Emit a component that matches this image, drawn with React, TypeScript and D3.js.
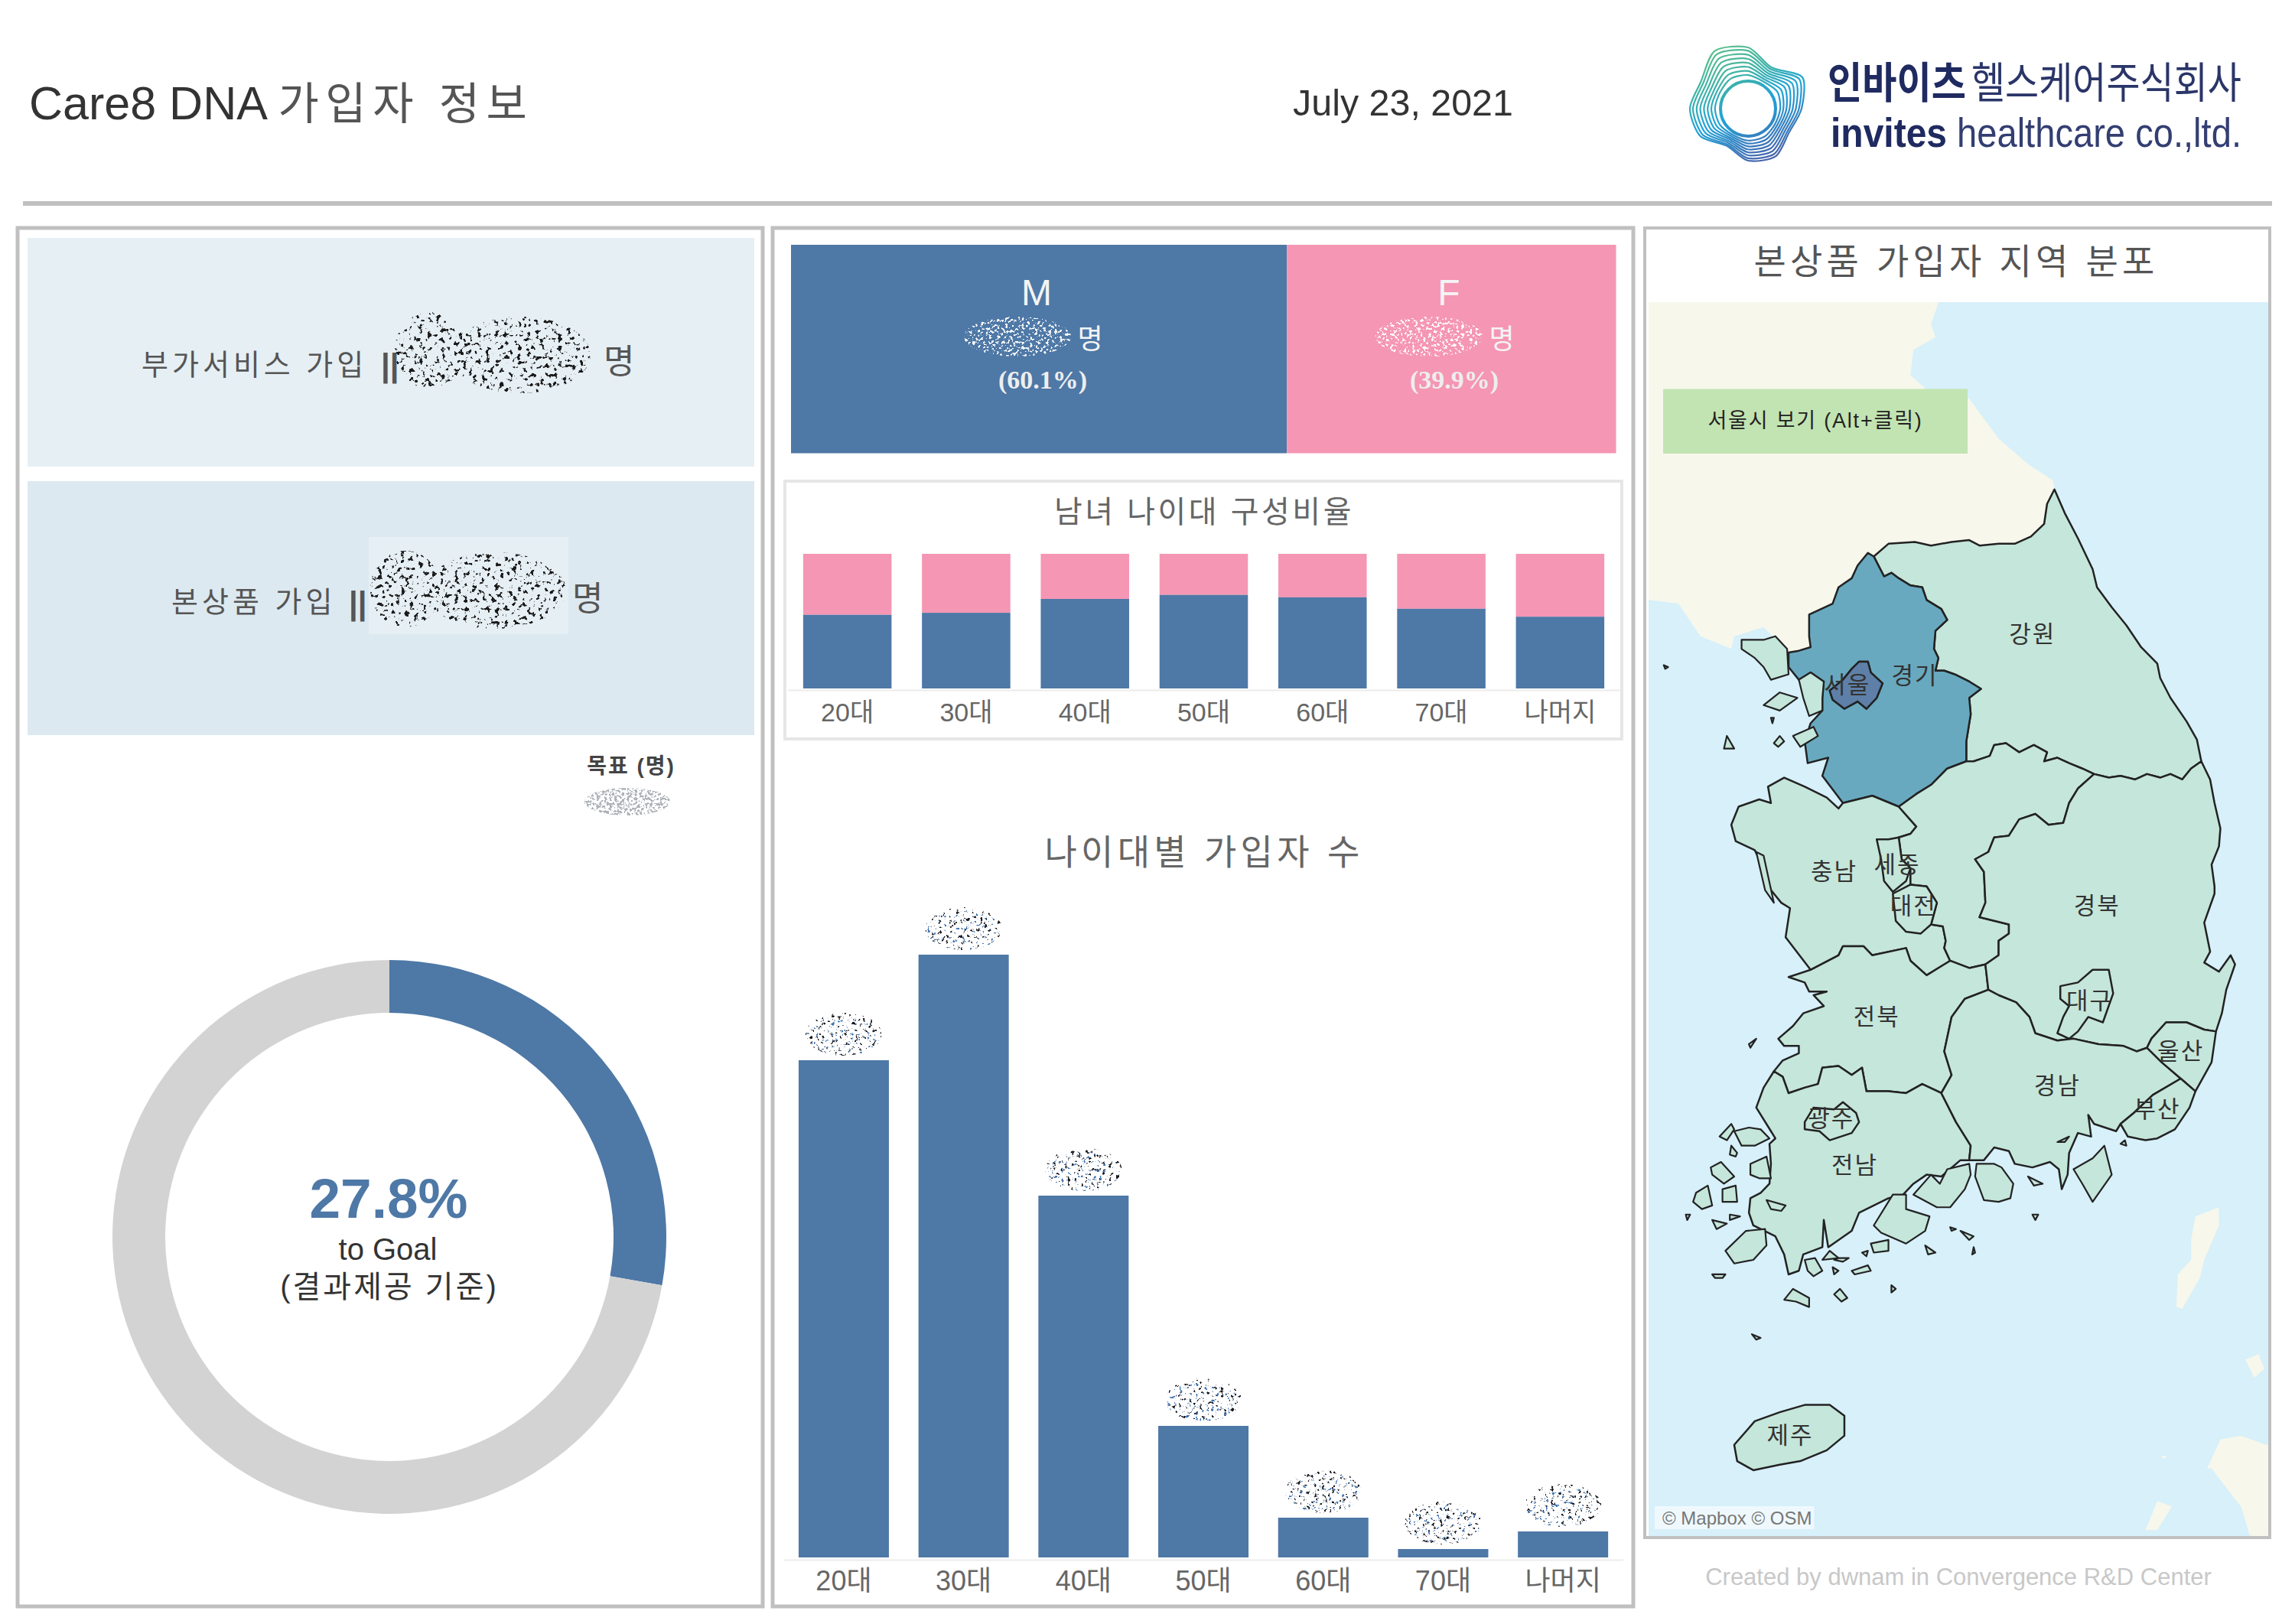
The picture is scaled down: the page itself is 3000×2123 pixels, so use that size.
import React, { useEffect, useRef } from 'react';
import * as d3 from 'd3';

type Pt = [number, number];

const FONT = "'Liberation Sans','Noto Sans CJK KR',sans-serif";
const BLUE = '#4e78a6';
const PINK = '#f596b4';
const TEXT = '#555';

const ageLabels = ['20대', '30대', '40대', '50대', '60대', '70대', '나머지'];
const ageCounts = [650, 788, 473, 172, 52, 11, 34];
const maleShare = [0.547, 0.562, 0.665, 0.695, 0.677, 0.592, 0.533];
const genderLabels = ['M', 'F'];
const genderShare = [60.1, 39.9];
const goalShare = 27.8;

// province borders, lon/lat, shared between rings
const gwEast: Pt[] = [[128.36,38.63],[128.43,38.5],[128.52,38.36],[128.62,38.19],[128.65,38.09],[128.75,37.98],[128.85,37.88],[128.95,37.76],[129.06,37.67],[129.08,37.59],[129.15,37.48],[129.26,37.35],[129.33,37.25],[129.36,37.13]];
const gwSouthE: Pt[] = [[129.36,37.13],[129.29,37.09],[129.23,37.03],[129.15,37.06],[129.08,37.04],[128.99,37.06],[128.91,37.03],[128.81,37.05],[128.73,37.04],[128.63,37.06]];
const gwSouthW: Pt[] = [[128.63,37.06],[128.55,37.09],[128.46,37.12],[128.38,37.15],[128.29,37.13],[128.31,37.18],[128.22,37.22],[128.12,37.18],[128.03,37.23],[127.95,37.22],[127.92,37.16],[127.81,37.13],[127.76,37.13]];
const ggGw: Pt[] = [[127.76,37.13],[127.76,37.24],[127.79,37.39],[127.78,37.48],[127.86,37.53],[127.78,37.57],[127.68,37.61],[127.61,37.63],[127.55,37.63],[127.57,37.7],[127.54,37.75],[127.55,37.85],[127.63,37.91],[127.59,37.97],[127.49,38.02],[127.46,38.09],[127.38,38.1],[127.3,38.14],[127.25,38.17],[127.2,38.15],[127.13,38.26]];
const gwNorth: Pt[] = [[127.13,38.26],[127.23,38.33],[127.41,38.34],[127.52,38.32],[127.66,38.34],[127.78,38.35],[127.85,38.32],[127.98,38.33],[128.09,38.33],[128.2,38.37],[128.29,38.44],[128.31,38.55],[128.36,38.63]];
const ggNW: Pt[] = [[127.13,38.26],[127.09,38.28],[127.02,38.21],[126.98,38.14],[126.89,38.09],[126.85,38],[126.69,37.94],[126.69,37.82],[126.7,37.76],[126.62,37.74],[126.55,37.73],[126.55,37.65],[126.62,37.58],[126.7,37.62],[126.79,37.57],[126.78,37.48],[126.78,37.41],[126.7,37.34],[126.66,37.24],[126.68,37.12],[126.82,37.15],[126.78,37.05],[126.92,36.9]];
const ggS1: Pt[] = [[126.92,36.9],[127.12,36.94],[127.3,36.88]];
const ggS2: Pt[] = [[127.3,36.88],[127.42,36.95],[127.52,37],[127.63,37.09],[127.76,37.13]];
const cnCoast: Pt[] = [[126.92,36.9],[126.89,36.87],[126.81,36.93],[126.66,36.99],[126.52,37.04],[126.41,36.99],[126.43,36.9],[126.35,36.92],[126.21,36.88],[126.16,36.78],[126.19,36.69],[126.32,36.64],[126.38,36.54],[126.43,36.42],[126.5,36.35],[126.56,36.32],[126.53,36.16],[126.7,35.98]];
const cnJb: Pt[] = [[126.7,35.98],[126.89,36.06],[126.92,36.11],[127.06,36.11],[127.12,36.06],[127.35,36.1],[127.38,36.03],[127.49,35.95],[127.65,36.03]];
const chungDiv: Pt[] = [[127.3,36.88],[127.42,36.77],[127.38,36.73],[127.3,36.71],[127.32,36.59],[127.38,36.54],[127.38,36.45],[127.49,36.44],[127.56,36.35],[127.52,36.23],[127.6,36.22],[127.62,36.14],[127.61,36.1],[127.65,36.03]];
const cbGb: Pt[] = [[128.63,37.06],[128.52,36.98],[128.46,36.9],[128.42,36.79],[128.32,36.78],[128.23,36.84],[128.12,36.81],[128.05,36.72],[127.95,36.71],[127.91,36.63],[127.82,36.59],[127.88,36.52],[127.89,36.35],[127.85,36.27],[128.05,36.23],[128.05,36.18],[127.98,36.14],[127.98,36.06],[127.89,36.01]];
const cbJb: Pt[] = [[127.89,36.01],[127.78,35.99],[127.65,36.03]];
const jbCoast: Pt[] = [[126.7,35.98],[126.55,35.94],[126.66,35.91],[126.69,35.86],[126.81,35.86],[126.72,35.84],[126.79,35.78],[126.65,35.74],[126.58,35.67],[126.48,35.6],[126.52,35.56],[126.62,35.56],[126.62,35.52],[126.51,35.48],[126.45,35.42]];
const jbJn: Pt[] = [[126.45,35.42],[126.51,35.39],[126.55,35.3],[126.66,35.33],[126.75,35.35],[126.78,35.44],[126.89,35.45],[126.98,35.4],[127.05,35.44],[127.08,35.31],[127.23,35.31],[127.35,35.3],[127.46,35.35],[127.59,35.3]];
const jbGn: Pt[] = [[127.59,35.3],[127.66,35.4],[127.61,35.53],[127.66,35.72],[127.75,35.82],[127.91,35.87]];
const cbGn: Pt[] = [[127.91,35.87],[127.89,36.01]];
const gbCoast: Pt[] = [[129.36,37.13],[129.42,37.03],[129.45,36.9],[129.49,36.76],[129.48,36.66],[129.43,36.56],[129.45,36.44],[129.45,36.4],[129.38,36.24],[129.42,36.08],[129.38,36.02],[129.48,35.97],[129.56,36.06],[129.59,36.01],[129.53,35.87],[129.5,35.74],[129.46,35.64]];
const gbUs: Pt[] = [[129.46,35.64],[129.38,35.65],[129.26,35.69],[129.12,35.69],[129.02,35.6],[128.99,35.55]];
const gbGn: Pt[] = [[128.99,35.55],[128.92,35.53],[128.83,35.56],[128.66,35.57],[128.49,35.6],[128.38,35.59],[128.23,35.63],[128.19,35.72],[128.1,35.8],[127.98,35.84],[127.91,35.87]];
const usGn: Pt[] = [[128.99,35.55],[129.09,35.47],[129.22,35.38]];
const usBs: Pt[] = [[129.22,35.38],[129.32,35.31]];
const usCoast: Pt[] = [[129.32,35.31],[129.43,35.47],[129.46,35.64]];
const bsCoast: Pt[] = [[129.32,35.31],[129.28,35.22],[129.18,35.1],[129.06,35.05],[128.98,35.04],[128.86,35.06],[128.81,35.13]];
const bsGn: Pt[] = [[128.81,35.13],[128.9,35.19],[129.03,35.29],[129.22,35.38]];
const gnWest: Pt[] = [[127.59,35.3],[127.69,35.14],[127.79,35.01],[127.78,34.93]];
const gnCoast: Pt[] = [[127.78,34.93],[127.88,34.93],[127.95,35],[128.05,34.98],[128.09,34.91],[128.21,34.89],[128.33,34.92],[128.39,34.88],[128.41,34.77],[128.45,34.85],[128.46,34.97],[128.52,35.08],[128.61,35.06],[128.59,35.18],[128.63,35.13],[128.78,35.09],[128.81,35.13]];
const jnCoast: Pt[] = [[126.45,35.42],[126.38,35.33],[126.33,35.22],[126.43,35.09],[126.46,35.05],[126.42,35.02],[126.43,34.91],[126.42,34.8],[126.36,34.75],[126.29,34.72],[126.28,34.64],[126.31,34.57],[126.46,34.51],[126.52,34.41],[126.55,34.3],[126.62,34.32],[126.65,34.41],[126.78,34.45],[126.79,34.6],[126.82,34.45],[126.98,34.54],[127.03,34.64],[127.23,34.72],[127.33,34.74],[127.4,34.8],[127.49,34.85],[127.59,34.84],[127.72,34.93],[127.78,34.93]];

const rev = (a: Pt[]) => [...a].reverse();

const regionNames = ['강원', '경기', '충남', '충북', '전북', '전남', '경북', '경남', '울산', '부산', '세종', '대전', '대구', '광주', '제주', '서울'];
const regionLevels = [0, 1, 0, 0, 0, 0, 0, 0, 0, 0, 0, 0, 0, 0, 0, 2];
const regionRings: Pt[][] = [
  [...gwEast, ...gwSouthE, ...gwSouthW, ...ggGw, ...gwNorth],
  [...ggNW, ...ggS1, ...ggS2, ...ggGw],
  [...cnCoast, ...cnJb, ...rev(chungDiv), ...rev(ggS1)],
  [...ggS2, ...rev(gwSouthW), ...cbGb, ...cbJb, ...rev(chungDiv)],
  [...jbCoast, ...jbJn, ...jbGn, ...cbGn, ...cbJb, ...rev(cnJb)],
  [...jnCoast, ...rev(gnWest), ...rev(jbJn)],
  [...gbCoast, ...gbUs, ...gbGn, ...cbGn, ...rev(cbGb), ...rev(gwSouthE)],
  [...gnWest, ...gnCoast, ...bsGn, ...rev(usGn), ...gbGn, ...rev(jbGn)],
  [...usGn, ...usBs, ...usCoast, ...gbUs],
  [...usBs, ...bsCoast, ...bsGn],
  [[127.15,36.7],[127.23,36.7],[127.3,36.71],[127.32,36.59],[127.38,36.54],[127.35,36.47],[127.26,36.41],[127.2,36.47],[127.18,36.59]],
  [[127.38,36.45],[127.49,36.44],[127.56,36.35],[127.52,36.23],[127.45,36.18],[127.35,36.19],[127.28,36.25],[127.26,36.4]],
  [[128.4,35.89],[128.52,35.91],[128.62,35.98],[128.73,35.98],[128.76,35.85],[128.69,35.69],[128.59,35.72],[128.52,35.64],[128.46,35.6],[128.38,35.63],[128.42,35.72],[128.46,35.78],[128.4,35.82]],
  [[126.66,35.14],[126.72,35.22],[126.86,35.21],[126.92,35.25],[127.01,35.19],[127.03,35.14],[126.98,35.08],[126.83,35.04],[126.76,35.09],[126.66,35.1]],
  [[126.18,33.36],[126.32,33.49],[126.49,33.54],[126.66,33.58],[126.83,33.58],[126.93,33.52],[126.93,33.41],[126.81,33.33],[126.63,33.27],[126.49,33.25],[126.31,33.22],[126.2,33.27]],
  [[127.03,37.68],[127.09,37.68],[127.11,37.62],[127.19,37.56],[127.15,37.48],[127.08,37.42],[127.02,37.46],[126.93,37.42],[126.85,37.47],[126.83,37.52],[126.92,37.58],[126.98,37.64]],
];

// Incheon, the south coast peninsulas and the islands
const islandRings: Pt[][] = [
  [[126.62,37.58],[126.7,37.62],[126.79,37.57],[126.78,37.48],[126.78,37.41],[126.69,37.38],[126.65,37.48]],
  [[126.38,37.8],[126.46,37.82],[126.54,37.75],[126.55,37.61],[126.43,37.58],[126.38,37.65],[126.32,37.7],[126.23,37.75],[126.23,37.8]],
  [[126.38,37.44],[126.49,37.51],[126.61,37.48],[126.49,37.41]],
  [[126.43,37.37],[126.45,37.37],[126.44,37.34]],
  [[126.58,37.27],[126.72,37.32],[126.75,37.27],[126.63,37.21]],
  [[126.13,37.27],[126.11,37.2],[126.18,37.2]],
  [[126.45,37.23],[126.49,37.27],[126.52,37.24],[126.48,37.21]],
  [[125.7,37.66],[125.73,37.65],[125.71,37.64]],
  [[126.33,36.63],[126.38,36.61],[126.45,36.35],[126.39,36.42]],
  [[127.83,34.91],[127.95,34.91],[128,34.89],[128.08,34.8],[128.06,34.72],[127.98,34.7],[127.88,34.71],[127.82,34.84]],
  [[128.49,34.88],[128.62,34.94],[128.7,35.01],[128.75,34.85],[128.62,34.7],[128.55,34.8]],
  [[128.18,34.84],[128.28,34.8],[128.22,34.79]],
  [[128.21,34.63],[128.25,34.63],[128.23,34.6]],
  [[128.81,35.02],[128.84,35.04],[128.85,35.01]],
  [[128.38,35.03],[128.46,35.06],[128.43,35.03]],
  [[127.13,34.57],[127.26,34.74],[127.35,34.74],[127.35,34.66],[127.51,34.62],[127.48,34.54],[127.35,34.47],[127.18,34.53]],
  [[127.4,34.74],[127.52,34.85],[127.58,34.8],[127.63,34.88],[127.78,34.91],[127.79,34.85],[127.75,34.77],[127.65,34.67],[127.56,34.67]],
  [[126.12,34.43],[126.26,34.54],[126.39,34.55],[126.4,34.46],[126.31,34.38],[126.18,34.36]],
  [[126.66,34.38],[126.73,34.39],[126.78,34.32],[126.72,34.29],[126.68,34.32]],
  [[126.08,35.06],[126.16,35.13],[126.18,35.1],[126.13,35.04]],
  [[126.18,35.09],[126.28,35.11],[126.36,35.1],[126.42,35.05],[126.32,35.01],[126.23,35.01]],
  [[126.16,35.01],[126.2,34.97],[126.19,34.95],[126.15,34.96]],
  [[126.02,34.89],[126.09,34.92],[126.18,34.84],[126.11,34.8],[126.03,34.85]],
  [[126.1,34.77],[126.19,34.79],[126.2,34.7],[126.1,34.7]],
  [[125.92,34.75],[126,34.79],[126.03,34.68],[125.96,34.66],[125.9,34.7]],
  [[126.29,34.91],[126.4,34.95],[126.43,34.83],[126.35,34.83],[126.29,34.85]],
  [[126.4,34.71],[126.53,34.68],[126.5,34.65],[126.43,34.66]],
  [[126.03,34.6],[126.13,34.58],[126.06,34.55]],
  [[126.15,34.63],[126.22,34.62],[126.15,34.6]],
  [[125.85,34.63],[125.88,34.63],[125.86,34.6]],
  [[126.03,34.3],[126.12,34.3],[126.1,34.28],[126.05,34.28]],
  [[126.78,34.38],[126.83,34.43],[126.89,34.39]],
  [[126.89,34.39],[126.96,34.39],[126.92,34.37],[126.86,34.38]],
  [[126.85,34.34],[126.89,34.32],[126.86,34.3]],
  [[126.98,34.32],[127.09,34.35],[127.11,34.32],[127,34.3]],
  [[127.05,34.42],[127.09,34.43],[127.08,34.4]],
  [[127.11,34.47],[127.23,34.49],[127.23,34.43],[127.13,34.42]],
  [[126.52,34.16],[126.58,34.22],[126.69,34.17],[126.69,34.12],[126.6,34.15]],
  [[126.86,34.19],[126.9,34.22],[126.95,34.17],[126.91,34.15]],
  [[127.25,34.24],[127.28,34.22],[127.25,34.2]],
  [[127.48,34.46],[127.55,34.42],[127.5,34.41]],
  [[127.65,34.56],[127.69,34.55],[127.66,34.54]],
  [[127.72,34.54],[127.81,34.51],[127.78,34.49]],
  [[127.81,34.45],[127.82,34.42],[127.8,34.41]],
  [[126.3,33.97],[126.36,33.95],[126.33,33.94]],
  [[126.28,35.57],[126.33,35.6],[126.29,35.55]],
];

// base map land outside the provinces
const baseLand: Pt[][] = [
  [[125.4,39.9],[127.57,39.9],[127.57,39.66],[127.52,39.54],[127.55,39.47],[127.4,39.4],[127.38,39.26],[127.49,39.18],[127.78,39.13],[127.98,38.91],[128.18,38.77],[128.35,38.68],...rev(gwNorth),...ggNW.slice(0, 11),[126.38,37.87],[126.18,37.82],[126.16,37.75],[125.95,37.82],[125.8,38],[125.6,38.02],[125.4,38.02]],
  [[129.32,34.62],[129.48,34.67],[129.48,34.57],[129.38,34.38],[129.35,34.28],[129.23,34.11],[129.19,34.12],[129.2,34.3],[129.29,34.38],[129.29,34.49]],
  [[129.66,33.83],[129.75,33.86],[129.79,33.78],[129.72,33.73]],
  [[129.4,33.23],[129.49,33.39],[129.63,33.41],[129.8,33.36],[129.98,33.36],[129.98,32.81],[129.69,32.86],[129.63,33.02],[129.58,33.07],[129.43,33.23]],
  [[128.98,32.89],[129.06,33.05],[129.16,33.02],[129.06,32.89]],
  [[129.09,33.3],[129.13,33.3],[129.1,33.28]],
];

const mapLabels = ['강원', '경기', '서울', '충남', '세종', '대전', '경북', '대구', '전북', '울산', '경남', '부산', '광주', '전남', '제주'];
const mapLabelLon = [128.21, 127.41, 126.95, 126.86, 127.29, 127.4, 128.65, 128.6, 127.15, 129.22, 128.38, 129.06, 126.84, 127.0, 126.56];
const mapLabelLat = [37.82, 37.59, 37.54, 36.51, 36.55, 36.32, 36.32, 35.8, 35.71, 35.52, 35.33, 35.2, 35.15, 34.89, 33.4];

const logoOuter = [80, 62, 82, 70, 62, 72, 68, 56, 72, 76, 71, 87];
const logoLayers = [0.18, 0.3, 0.42, 0.54, 0.66, 0.78, 0.9, 1];

const lonScale = d3.scaleLinear().domain([126.55, 127.55]).range([2338, 2530]);
const latScale = d3.scaleLinear().domain([33.38, 34.38]).range([1884, 1647]);
const ringPath = d3.line<Pt>().x((d) => lonScale(d[0])).y((d) => latScale(d[1]));
const regionColor = d3.scaleLinear<string>().domain([0, 1, 2]).range(['#c5e6da', '#68a9bf', '#5e80a8']);

function Specks({ cx, cy, rx, ry, filter }: { cx: number; cy: number; rx: number; ry: number; filter: string }) {
  return <ellipse cx={cx} cy={cy} rx={rx} ry={ry} fill="#000" filter={`url(#${filter})`} />;
}

function SpeckFilter({ id, freq, seed, rgb, cut }: { id: string; freq: number; seed: number; rgb: number[]; cut: number }) {
  const matrix = `0 0 0 0 ${rgb[0]} 0 0 0 0 ${rgb[1]} 0 0 0 0 ${rgb[2]} 0 0 0 14 ${-14 * cut}`;
  return (
    <filter id={id} x="0" y="0" width="1" height="1" colorInterpolationFilters="sRGB">
      <feTurbulence type="fractalNoise" baseFrequency={freq} numOctaves={3} seed={seed} />
      <feColorMatrix type="matrix" values={matrix} />
      <feComposite in2="SourceAlpha" operator="in" />
    </filter>
  );
}

function AxisBottom({ scale, y, size, pad }: { scale: d3.ScaleBand<string>; y: number; size: number; pad: number }) {
  const ref = useRef<SVGGElement>(null);
  useEffect(() => {
    const g = d3.select(ref.current);
    g.call(d3.axisBottom(scale).tickSize(0).tickPadding(pad) as any);
    g.select('.domain').attr('stroke', '#ececec').attr('stroke-width', 2);
    g.selectAll('text').attr('font-family', FONT).attr('font-size', size).attr('fill', '#666');
  });
  return <g ref={ref} transform={`translate(0,${y})`} />;
}

function Header() {
  const angle = d3.scaleLinear().domain([0, logoOuter.length]).range([0, 2 * Math.PI]);
  const radial = d3
    .lineRadial<number>()
    .angle((_, i) => angle(i))
    .radius((d) => d)
    .curve(d3.curveCardinalClosed.tension(0.2));
  return (
    <g>
      <text x={38} y={156} fontFamily={FONT} fontSize={61} fill="#333">
        Care8 DNA <tspan letterSpacing={8.5} fontSize={58} fill="#555">가입자 정보</tspan>
      </text>
      <text x={1834} y={151} textAnchor="middle" fontFamily={FONT} fontSize={48.4} fill="#333">July 23, 2021</text>
      <rect x={30} y={263} width={2940} height={6} fill="#c0c0c0" />
      <g transform="translate(2285,142)">
        {logoLayers.map((t) => (
          <path
            key={t}
            d={radial(logoOuter.map((r) => 36 + (r - 36) * t)) || ''}
            fill="none"
            stroke="url(#logoGrad)"
            strokeWidth={2.2}
          />
        ))}
        <circle r={36} fill="none" stroke="url(#logoGrad)" strokeWidth={4} />
      </g>
      <text x={2389} y={128} fontFamily={FONT} fontSize={56} fontWeight={700} fill="#1f2a60" textLength={181} lengthAdjust="spacingAndGlyphs">인바이츠</text>
      <text x={2577} y={128} fontFamily={FONT} fontSize={56} fill="#2a3568" textLength={353} lengthAdjust="spacingAndGlyphs">헬스케어주식회사</text>
      <text x={2393} y={192} fontFamily={FONT} fontSize={54} fontWeight={700} fill="#1f2a60" textLength={152} lengthAdjust="spacingAndGlyphs">invites</text>
      <text x={2558} y={192} fontFamily={FONT} fontSize={54} fill="#333e72" textLength={372} lengthAdjust="spacingAndGlyphs">healthcare co.,ltd.</text>
    </g>
  );
}

function LeftPanel() {
  const arc = d3.arc<d3.PieArcDatum<number>>().innerRadius(293).outerRadius(362);
  const pie = d3.pie<number>().sort(null)([goalShare, 100 - goalShare]);
  return (
    <g fontFamily={FONT}>
      <rect x={23} y={298} width={974} height={1802} fill="none" stroke="#c0c0c0" strokeWidth={5} />
      <rect x={36} y={311} width={950} height={299} fill="#e6eff4" />
      <rect x={36} y={629} width={950} height={332} fill="#dde9f0" />
      <text x={185} y={490} fontSize={38} fill={TEXT} letterSpacing={5}>부가서비스 가입</text>
      <text x={498} y={492} fontSize={42} fontWeight={700} fill={TEXT}>||</text>
      <Specks cx={562} cy={458} rx={46} ry={50} filter="speckDark" />
      <Specks cx={680} cy={464} rx={92} ry={50} filter="speckDark" />
      <text x={789} y={488} fontSize={44} fill={TEXT}>명</text>
      <text x={224} y={800} fontSize={38} fill={TEXT} letterSpacing={5}>본상품 가입</text>
      <text x={456} y={803} fontSize={42} fontWeight={700} fill={TEXT}>||</text>
      <rect x={482} y={702} width={261} height={127} fill="#e6eff4" />
      <Specks cx={530} cy={770} rx={46} ry={50} filter="speckDark" />
      <Specks cx={648} cy={772} rx={92} ry={50} filter="speckDark" />
      <text x={748} y={798} fontSize={44} fill={TEXT}>명</text>
      <text x={825} y={1011} textAnchor="middle" fontSize={28} fontWeight={700} letterSpacing={2} fill="#444">목표 (명)</text>
      <Specks cx={820} cy={1048} rx={56} ry={18} filter="speckPale" />
      <g transform="translate(509,1617)">
        {pie.map((d, i) => (
          <path key={i} d={arc(d) || ''} fill={i === 0 ? BLUE : '#d3d3d3'} />
        ))}
        <text x={-1} y={-25} textAnchor="middle" fontSize={73} fontWeight={700} fill={BLUE}>{goalShare}%</text>
        <text x={-2} y={30} textAnchor="middle" fontSize={40} fill="#333">to Goal</text>
        <text x={0} y={79} textAnchor="middle" fontSize={40} letterSpacing={3} fill="#333">(결과제공 기준)</text>
      </g>
    </g>
  );
}

function MiddlePanel() {
  const gx = d3.scaleLinear().domain([0, 100]).range([1034, 2112.5]);
  const sx = d3.scaleBand().domain(ageLabels).range([1030, 2117]).paddingInner(0.256).paddingOuter(0.128);
  const sy = d3.scaleLinear().domain([0, 1]).range([900, 724]);
  const bx = d3.scaleBand().domain(ageLabels).range([1024.6, 2121.5]).paddingInner(0.247).paddingOuter(0.1235);
  const by = d3.scaleLinear().domain([0, d3.max(ageCounts) as number]).range([2036, 1248]);
  const genderStack = d3.cumsum(genderShare);
  const textX = [1355, 1894];
  const pctX = [1363, 1901];
  const speckX = [1330, 1868];
  const unitX = [1425, 1963];
  return (
    <g fontFamily={FONT}>
      <rect x={1010} y={298} width={1125} height={1802} fill="none" stroke="#c0c0c0" strokeWidth={5} />
      {genderLabels.map((g, i) => (
        <g key={g}>
          <rect
            x={gx(i === 0 ? 0 : genderStack[i - 1])}
            y={320}
            width={gx(genderStack[i]) - gx(i === 0 ? 0 : genderStack[i - 1])}
            height={272.5}
            fill={i === 0 ? BLUE : PINK}
          />
          <text x={textX[i]} y={399} textAnchor="middle" fontSize={48} fill="#f4f4f4">{g}</text>
          <Specks cx={speckX[i]} cy={440} rx={70} ry={26} filter="speckWhite" />
          <text x={unitX[i]} y={456} textAnchor="middle" fontSize={36} fill="#f4f4f4">명</text>
          <text x={pctX[i]} y={508} textAnchor="middle" fontSize={34} fontWeight={700} fontFamily="'Liberation Serif',serif" fill="#eee">
            ({genderShare[i]}%)
          </text>
        </g>
      ))}
      <rect x={1026} y={629} width={1094} height={337} fill="none" stroke="#e6e6e6" strokeWidth={4} />
      <text x={1574} y={683} textAnchor="middle" fontSize={40} letterSpacing={3.5} fill="#666">남녀 나이대 구성비율</text>
      {ageLabels.map((a, i) => (
        <g key={a}>
          <rect x={sx(a)} y={sy(1)} width={sx.bandwidth()} height={sy(maleShare[i]) - sy(1)} fill={PINK} />
          <rect x={sx(a)} y={sy(maleShare[i])} width={sx.bandwidth()} height={sy(0) - sy(maleShare[i])} fill={BLUE} />
        </g>
      ))}
      <AxisBottom scale={sx} y={902} size={34} pad={17} />
      <text x={1574} y={1130} textAnchor="middle" fontSize={46} letterSpacing={5.3} fill="#666">나이대별 가입자 수</text>
      {ageLabels.map((a, i) => (
        <g key={a}>
          <rect x={bx(a)} y={by(ageCounts[i])} width={bx.bandwidth()} height={by(0) - by(ageCounts[i])} fill={BLUE} />
          <Specks cx={(bx(a) as number) + bx.bandwidth() / 2} cy={by(ageCounts[i]) - 34} rx={50} ry={28} filter="speckDark2" />
          <Specks cx={(bx(a) as number) + bx.bandwidth() / 2} cy={by(ageCounts[i]) - 32} rx={48} ry={26} filter="speckBlue" />
        </g>
      ))}
      <AxisBottom scale={bx} y={2039} size={36} pad={14} />
    </g>
  );
}

function MapPanel() {
  return (
    <g fontFamily={FONT}>
      <clipPath id="mapClip">
        <rect x={2155} y={395} width={811} height={1615} />
      </clipPath>
      <text x={2557} y={358} textAnchor="middle" fontSize={46} letterSpacing={5.2} fill={TEXT}>본상품 가입자 지역 분포</text>
      <g clipPath="url(#mapClip)">
        <rect x={2155} y={395} width={811} height={1615} fill="#d7f0fa" />
        {baseLand.map((r, i) => (
          <path key={i} d={(ringPath(r) || '') + 'Z'} fill="#f7f7ec" />
        ))}
        {regionRings.map((r, i) => (
          <path
            key={regionNames[i]}
            d={(ringPath(r) || '') + 'Z'}
            fill={regionColor(regionLevels[i])}
            stroke="#222"
            strokeWidth={2.5}
            strokeLinejoin="round"
          />
        ))}
        {islandRings.map((r, i) => (
          <path key={i} d={(ringPath(r) || '') + 'Z'} fill="#c5e6da" stroke="#222" strokeWidth={2.2} strokeLinejoin="round" />
        ))}
      </g>
      {/* Seoul again on top of the Incheon piece */}
      <path d={(ringPath(regionRings[15]) || '') + 'Z'} fill={regionColor(2)} stroke="#222" strokeWidth={2.5} />
      {mapLabels.map((m, i) => (
        <text key={m} x={lonScale(mapLabelLon[i])} y={latScale(mapLabelLat[i])} textAnchor="middle" dominantBaseline="middle" fontSize={31} letterSpacing={2} fill="#333">
          {m}
        </text>
      ))}
      <rect x={2174} y={508.5} width={398} height={84.5} fill="#c2e4b2" />
      <text x={2373} y={559} textAnchor="middle" fontSize={27} letterSpacing={1.8} fill="#222">서울시 보기 (Alt+클릭)</text>
      <rect x={2163} y={1969} width={208.5} height={30} fill="#fff" fillOpacity={0.6} />
      <text x={2173} y={1993} fontSize={24} fill="#777">© Mapbox © OSM</text>
      <rect x={2150} y={298} width={817} height={1712} fill="none" stroke="#c0c0c0" strokeWidth={4} />
      <text x={2560} y={2072} textAnchor="middle" fontSize={31} fill="#c8c8c8">Created by dwnam in Convergence R&amp;D Center</text>
    </g>
  );
}

export default function App() {
  return (
    <svg width={3000} height={2123} style={{ position: 'absolute', left: 0, top: 0, background: '#fff' }}>
      <defs>
        <SpeckFilter id="speckDark" freq={0.17} seed={7} rgb={[0.1, 0.1, 0.1]} cut={0.6} />
        <SpeckFilter id="speckDark2" freq={0.22} seed={3} rgb={[0.1, 0.1, 0.12]} cut={0.64} />
        <SpeckFilter id="speckBlue" freq={0.24} seed={11} rgb={[0.25, 0.45, 0.7]} cut={0.66} />
        <SpeckFilter id="speckWhite" freq={0.28} seed={5} rgb={[1, 1, 1]} cut={0.56} />
        <SpeckFilter id="speckPale" freq={0.3} seed={9} rgb={[0.68, 0.7, 0.72]} cut={0.5} />
        <linearGradient id="logoGrad" gradientUnits="userSpaceOnUse" x1={-50} y1={-80} x2={20} y2={75}>
          <stop offset="0" stopColor="#5cc08a" />
          <stop offset="0.3" stopColor="#3fb2a8" />
          <stop offset="0.55" stopColor="#1fa3d8" />
          <stop offset="1" stopColor="#4c5fa8" />
        </linearGradient>
      </defs>
      <Header />
      <LeftPanel />
      <MiddlePanel />
      <MapPanel />
    </svg>
  );
}
